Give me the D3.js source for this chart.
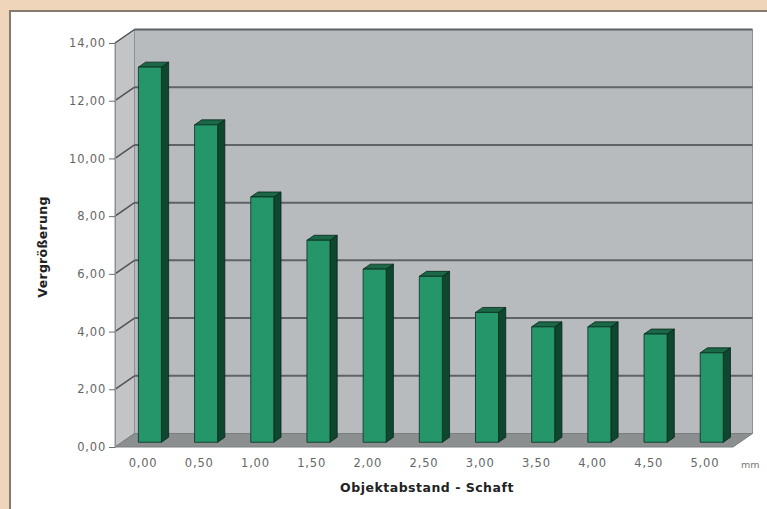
<!DOCTYPE html>
<html>
<head>
<meta charset="utf-8">
<script src="https://cdn.jsdelivr.net/npm/d3@7"></script>
<style>
  html, body { margin: 0; padding: 0; background: #efd6bb; }
  svg { display: block; }
</style>
</head>
<body>
<svg id="chart" width="767" height="509"></svg>
<script>
// Vergrößerung in Abhängigkeit vom Objektabstand
const categories = ["0,00", "0,50", "1,00", "1,50", "2,00", "2,50", "3,00", "3,50", "4,00", "4,50", "5,00"];
const values = [13.0, 11.0, 8.5, 7.0, 6.0, 5.75, 4.5, 4.0, 4.0, 3.75, 3.1];
const yTicks = [0, 2, 4, 6, 8, 10, 12, 14];
const xTitle = "Objektabstand - Schaft";
const yTitle = "Vergrößerung";
const unitLabel = "mm";

const svg = d3.select("#chart");
const W = 767, H = 509;

// background and white chart panel
svg.append("rect").attr("width", W).attr("height", H).attr("fill", "#efd6bb");
svg.append("rect").attr("x", 10).attr("y", 11).attr("width", W - 10).attr("height", H - 11).attr("fill", "#ffffff");
svg.append("line").attr("x1", 9.5).attr("x2", W).attr("y1", 11).attr("y2", 11)
  .attr("stroke", "#857a70").attr("stroke-width", 2);
svg.append("line").attr("x1", 10).attr("x2", 10).attr("y1", 10).attr("y2", H)
  .attr("stroke", "#857a70").attr("stroke-width", 2);

// front plane geometry and depth offset of the 3D box
const pLeft = 115, pRight = 733, pBottom = 447, pTop = 43;
const DX = 19.5, DY = -13.5;

const x = d3.scaleBand().domain(categories).range([pLeft, pRight]).padding(0);
const y = d3.scaleLinear().domain([0, 14]).range([pBottom, pTop]);

const fmt = d3.formatLocale({ decimal: ",", thousands: ".", grouping: [3], currency: ["", "€"] }).format(".2f");

const px = (xv, f) => xv + DX * f;
const py = (yv, f) => yv + DY * f;
const poly = pts => pts.map(p => p.join(",")).join(" ");

const y0 = y(0), yMax = y(14);

// left side wall
svg.append("polygon")
  .attr("points", poly([[pLeft, yMax], [px(pLeft, 1), py(yMax, 1)], [px(pLeft, 1), py(y0, 1)], [pLeft, y0]]))
  .attr("fill", "#c2c4c6").attr("stroke", "#8e9194").attr("stroke-width", 1);

// back wall
svg.append("polygon")
  .attr("points", poly([[px(pLeft, 1), py(yMax, 1)], [px(pRight, 1), py(yMax, 1)], [px(pRight, 1), py(y0, 1)], [px(pLeft, 1), py(y0, 1)]]))
  .attr("fill", "#b8bbbe").attr("stroke", "#8e9194").attr("stroke-width", 1);

// floor
svg.append("polygon")
  .attr("points", poly([[pLeft, y0], [pRight, y0], [px(pRight, 1), py(y0, 1)], [px(pLeft, 1), py(y0, 1)]]))
  .attr("fill", "#8b8f90").attr("stroke", "#7a7e80").attr("stroke-width", 1);

// gridlines: back wall horizontals and left wall diagonals
const grid = svg.append("g");
grid.selectAll("line.back").data(yTicks.filter(d => d > 0)).join("line")
  .attr("class", "back")
  .attr("x1", px(pLeft, 1)).attr("x2", px(pRight, 1))
  .attr("y1", d => py(y(d), 1)).attr("y2", d => py(y(d), 1))
  .attr("stroke", "#5f6366").attr("stroke-width", 2);
grid.selectAll("line.side").data(yTicks.filter(d => d > 0)).join("line")
  .attr("class", "side")
  .attr("x1", pLeft).attr("x2", px(pLeft, 1))
  .attr("y1", d => y(d)).attr("y2", d => py(y(d), 1))
  .attr("stroke", "#4f5356").attr("stroke-width", 1.5);

// 3D bars
const f0 = 0.35, f1 = 0.72;
const bw = x.bandwidth() * 0.41;
const bars = svg.append("g").selectAll("g").data(categories.map((c, i) => ({ c, v: values[i] }))).join("g");

bars.each(function (d) {
  const g = d3.select(this);
  const xl = x(d.c) + x.bandwidth() / 2 - bw / 2;
  const xr = xl + bw;
  const yt = y(d.v), yb = y(0);
  const front = [[px(xl, f0), py(yt, f0)], [px(xr, f0), py(yt, f0)], [px(xr, f0), py(yb, f0)], [px(xl, f0), py(yb, f0)]];
  const side = [[px(xr, f0), py(yt, f0)], [px(xr, f1), py(yt, f1)], [px(xr, f1), py(yb, f1)], [px(xr, f0), py(yb, f0)]];
  const topFace = [[px(xl, f0), py(yt, f0)], [px(xl, f1), py(yt, f1)], [px(xr, f1), py(yt, f1)], [px(xr, f0), py(yt, f0)]];
  g.append("polygon").attr("points", poly(side)).attr("fill", "#0f4630").attr("stroke", "#072418").attr("stroke-width", 0.8);
  g.append("polygon").attr("points", poly(topFace)).attr("fill", "#1a6847").attr("stroke", "#072418").attr("stroke-width", 0.8);
  g.append("polygon").attr("points", poly(front)).attr("fill", "#24966a").attr("stroke", "#0a2c1d").attr("stroke-width", 0.8);
});

// value axis on the front plane
const yAxis = svg.append("g").attr("transform", `translate(${pLeft},0)`)
  .call(d3.axisLeft(y).tickValues(yTicks).tickFormat(fmt).tickSize(6).tickPadding(3));
yAxis.select(".domain").attr("stroke", "#8e9194");
yAxis.selectAll(".tick line").attr("stroke", "#6a6d70");
yAxis.selectAll("text").attr("fill", "#666").attr("font-family", "DejaVu Sans, Verdana, sans-serif")
  .attr("font-size", 11.5).style("letter-spacing", "0.8px");

// category axis along the front floor edge
const xAxis = svg.append("g").attr("transform", `translate(0,${pBottom})`)
  .call(d3.axisBottom(x).tickSize(0).tickPadding(12));
xAxis.select(".domain").remove();
xAxis.selectAll("text").attr("fill", "#666").attr("font-family", "DejaVu Sans, Verdana, sans-serif")
  .attr("font-size", 11.5).style("letter-spacing", "0.8px");

// unit
svg.append("text").attr("x", 741).attr("y", 468).text(unitLabel)
  .attr("fill", "#777").attr("font-family", "DejaVu Sans, Verdana, sans-serif").attr("font-size", 9.5);

// axis titles
svg.append("text").attr("x", (pLeft + pRight) / 2 + 3).attr("y", 492).attr("text-anchor", "middle")
  .text(xTitle).attr("fill", "#222").attr("font-family", "DejaVu Sans, Verdana, sans-serif")
  .attr("font-size", 12.5).attr("font-weight", "bold").style("letter-spacing", "0.5px");
svg.append("text").attr("transform", `translate(47,${(pTop + pBottom) / 2 + 2}) rotate(-90)`).attr("text-anchor", "middle")
  .text(yTitle).attr("fill", "#222").attr("font-family", "DejaVu Sans, Verdana, sans-serif")
  .attr("font-size", 12.5).attr("font-weight", "bold").style("letter-spacing", "0.3px");
</script>
</body>
</html>
